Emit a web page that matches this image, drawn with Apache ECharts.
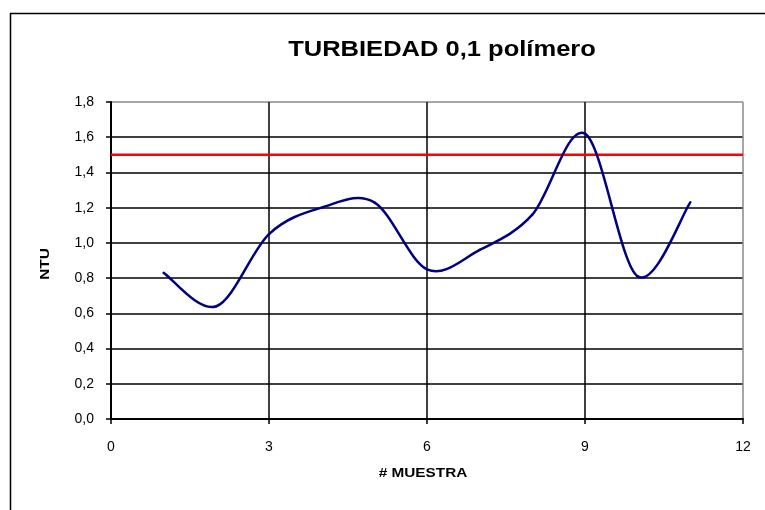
<!DOCTYPE html>
<html>
<head>
<meta charset="utf-8">
<style>
  html, body { margin: 0; padding: 0; background: #fff; }
  #chart { width: 765px; height: 510px; }
</style>
<script src="https://cdn.jsdelivr.net/npm/echarts@6/dist/echarts.min.js"></script>
</head>
<body>
<div id="chart"></div>
<script>
// Sample numbers and measured turbidity (NTU)
const muestras = [1, 2, 3, 4, 5, 6, 7, 8, 9, 10, 11];
const turbiedad = [0.83, 0.64, 1.05, 1.2, 1.23, 0.85, 0.96, 1.16, 1.62, 0.81, 1.23];
// Reference limit line
const limiteX = [0, 12];
const limiteValor = 1.5;

const FONT = 'Liberation Sans, Arial, sans-serif';
const fmtComma = v => v.toFixed(1).replace('.', ',');

// Smooth curve through the samples: each item draws the cubic segment
// to the next sample, with Catmull-Rom tangents taken from its neighbours.
function renderSegment(params, api) {
  const i = params.dataIndex;
  const n = muestras.length;
  if (i >= n - 1) return null;
  const pt = k => api.coord([muestras[k], turbiedad[k]]);
  const p0 = pt(Math.max(i - 1, 0));
  const p1 = pt(i);
  const p2 = pt(i + 1);
  const p3 = pt(Math.min(i + 2, n - 1));
  return {
    type: 'bezierCurve',
    shape: {
      x1: p1[0], y1: p1[1],
      cpx1: p1[0] + (p2[0] - p0[0]) / 6, cpy1: p1[1] + (p2[1] - p0[1]) / 6,
      cpx2: p2[0] - (p3[0] - p1[0]) / 6, cpy2: p2[1] - (p3[1] - p1[1]) / 6,
      x2: p2[0], y2: p2[1]
    },
    style: { stroke: '#000080', lineWidth: 2.5, fill: null, lineCap: 'round' }
  };
}

const chart = echarts.init(document.getElementById('chart'));
chart.setOption({
  animation: false,
  backgroundColor: '#fff',
  textStyle: { fontFamily: FONT },
  graphic: [
    {
      type: 'rect', left: 8, top: 11, z: -1,
      shape: { width: 800, height: 600 },
      style: { fill: 'none', stroke: '#000', lineWidth: 1.5 }
    },
    {
      type: 'text', x: 442, y: 50, scaleX: 1.16, originX: 0,
      style: { text: 'TURBIEDAD 0,1 polímero', font: 'bold 22px ' + FONT,
               fill: '#000', align: 'center', verticalAlign: 'middle' }
    },
    {
      type: 'text', x: 423, y: 473, scaleX: 1.18, originX: 0,
      style: { text: '# MUESTRA', font: 'bold 13px ' + FONT,
               fill: '#000', align: 'center', verticalAlign: 'middle' }
    },
    {
      type: 'text', x: 45, y: 264, rotation: Math.PI / 2, scaleX: 1.18,
      style: { text: 'NTU', font: 'bold 13px ' + FONT,
               fill: '#000', align: 'center', verticalAlign: 'middle' }
    }
  ],
  grid: { left: 111, right: 22, top: 102, bottom: 91 },
  xAxis: {
    type: 'value', min: 0, max: 12, interval: 3,
    axisLine: { onZero: false, lineStyle: { color: '#000', width: 2 } },
    axisTick: { show: true, length: 5, lineStyle: { color: '#000', width: 1.5 } },
    axisLabel: { fontSize: 14, color: '#000', margin: 21, fontFamily: FONT },
    splitLine: { show: true, lineStyle: { color: ['#000', '#000', '#000', '#000', '#888'], width: 1.5 } }
  },
  yAxis: {
    type: 'value', min: 0, max: 1.8, interval: 0.2,
    axisLine: { show: true, lineStyle: { color: '#000', width: 2 } },
    axisTick: { show: true, length: 5, lineStyle: { color: '#000', width: 1.5 } },
    axisLabel: { fontSize: 14, color: '#000', margin: 17, formatter: fmtComma, fontFamily: FONT },
    splitLine: { show: true, lineStyle: {
      color: ['#000', '#000', '#000', '#000', '#000', '#000', '#000', '#000', '#000', '#888'], width: 1.5 } }
  },
  series: [
    {
      type: 'line',
      data: limiteX.map(x => [x, limiteValor]),
      symbol: 'none',
      lineStyle: { color: '#ff0000', width: 2.5 },
      z: 3
    },
    {
      type: 'custom',
      renderItem: renderSegment,
      data: muestras.map((m, i) => [m, turbiedad[i]]),
      encode: { x: 0, y: 1 },
      z: 4
    }
  ]
});
</script>
</body>
</html>
